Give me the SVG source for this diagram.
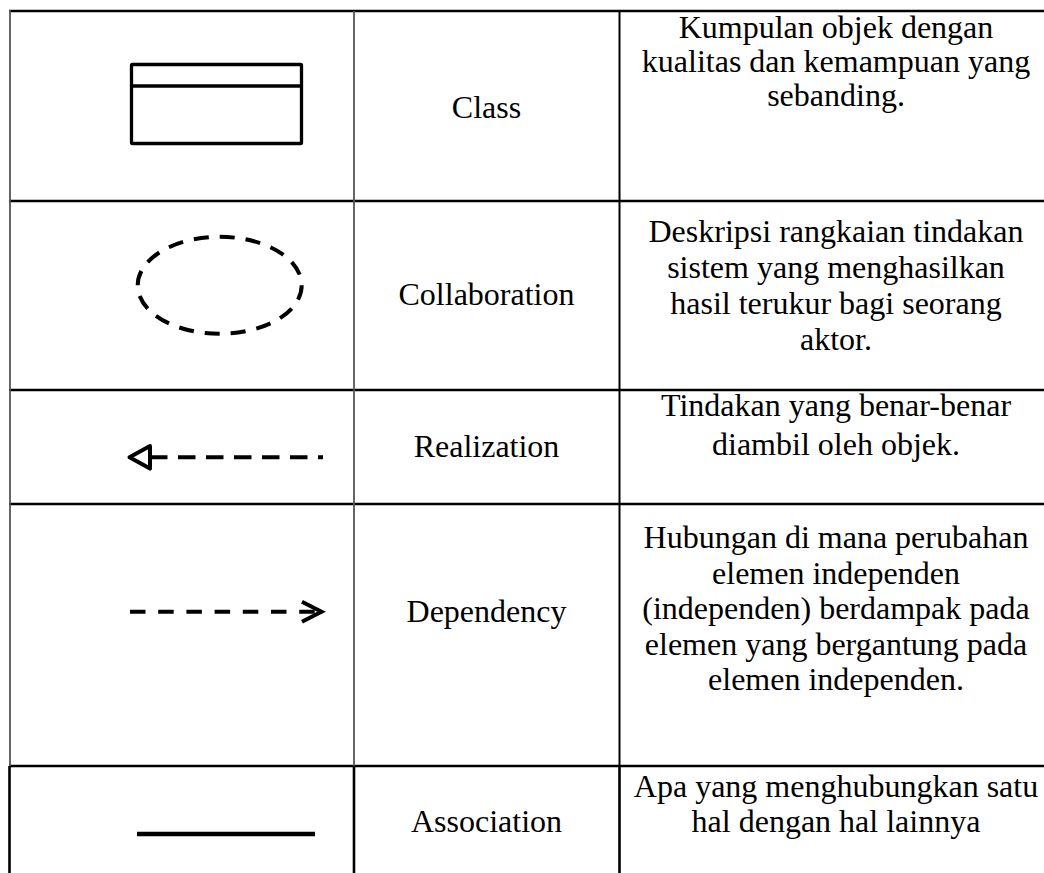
<svg xmlns="http://www.w3.org/2000/svg" width="1044" height="873" viewBox="0 0 1044 873">
<style>
.t{font-family:"Liberation Serif","Times New Roman",serif;font-size:32px;fill:#000;text-anchor:middle}
.hl{stroke:#000;stroke-width:2.4}
.vg{stroke:#555;stroke-width:1.8}
.vb{stroke:#000;stroke-width:2}
.vk{stroke:#000;stroke-width:2.6}
.sym{fill:none;stroke:#000;stroke-width:4}
</style>
<rect width="1044" height="873" fill="#fff"/>
<g id="grid">
<line class="hl" x1="9" y1="11" x2="1044" y2="11"/>
<line class="hl" x1="9" y1="201" x2="1044" y2="201"/>
<line class="hl" x1="9" y1="390" x2="1044" y2="390"/>
<line class="hl" x1="9" y1="504" x2="1044" y2="504"/>
<line class="hl" x1="9" y1="766" x2="1044" y2="766"/>
<line class="vg" x1="10" y1="10" x2="10" y2="766"/>
<line class="vg" x1="354" y1="11" x2="354" y2="766"/>
<line class="vb" x1="619.5" y1="11" x2="619.5" y2="766"/>
<line class="vk" x1="9.5" y1="766" x2="9.5" y2="873"/>
<line class="vk" x1="354" y1="766" x2="354" y2="873"/>
<line class="vk" x1="619.5" y1="766" x2="619.5" y2="873"/>
</g>
<g id="row-class">
<rect class="sym" x="131.5" y="64.5" width="170" height="79" rx="1" style="stroke-width:3.3"/>
<line class="sym" x1="131.5" y1="86" x2="301.5" y2="86" style="stroke-width:3.3"/>
<text class="t" x="486.5" y="118">Class</text>
<text class="t" x="836" y="38">Kumpulan objek dengan</text>
<text class="t" x="836" y="72">kualitas dan kemampuan yang</text>
<text class="t" x="836" y="106">sebanding.</text>
</g>
<g id="row-collaboration">
<ellipse class="sym" cx="219.7" cy="285.3" rx="82" ry="48.5" pathLength="416" stroke-dasharray="15 11"/>
<text class="t" x="486.5" y="305">Collaboration</text>
<text class="t" x="836" y="242">Deskripsi rangkaian tindakan</text>
<text class="t" x="836" y="278">sistem yang menghasilkan</text>
<text class="t" x="836" y="313.5">hasil terukur bagi seorang</text>
<text class="t" x="836" y="349.5">aktor.</text>
</g>
<g id="row-realization">
<line class="sym" x1="150" y1="457.3" x2="323" y2="457.3" stroke-dasharray="17.5 10.5"/>
<path class="sym" d="M150,446 L129.5,457.3 L150,468.6 Z" fill="#fff" stroke-linejoin="round"/>
<text class="t" x="486.5" y="457">Realization</text>
<text class="t" x="836" y="416">Tindakan yang benar-benar</text>
<text class="t" x="836" y="455">diambil oleh objek.</text>
</g>
<g id="row-dependency">
<line class="sym" x1="130" y1="611.7" x2="318" y2="611.7" stroke-dasharray="15.5 12.7"/>
<path class="sym" d="M302,601.7 L321.5,611.7 L302,621.7"/>
<text class="t" x="486.5" y="622">Dependency</text>
<text class="t" x="836" y="548">Hubungan di mana perubahan</text>
<text class="t" x="836" y="583.5">elemen independen</text>
<text class="t" x="836" y="619">(independen) berdampak pada</text>
<text class="t" x="836" y="654.5">elemen yang bergantung pada</text>
<text class="t" x="836" y="690">elemen independen.</text>
</g>
<g id="row-association">
<line class="sym" x1="137" y1="834" x2="315" y2="834" style="stroke-width:4.4"/>
<text class="t" x="486.5" y="832">Association</text>
<text class="t" x="836" y="797">Apa yang menghubungkan satu</text>
<text class="t" x="836" y="832">hal dengan hal lainnya</text>
</g>
</svg>
